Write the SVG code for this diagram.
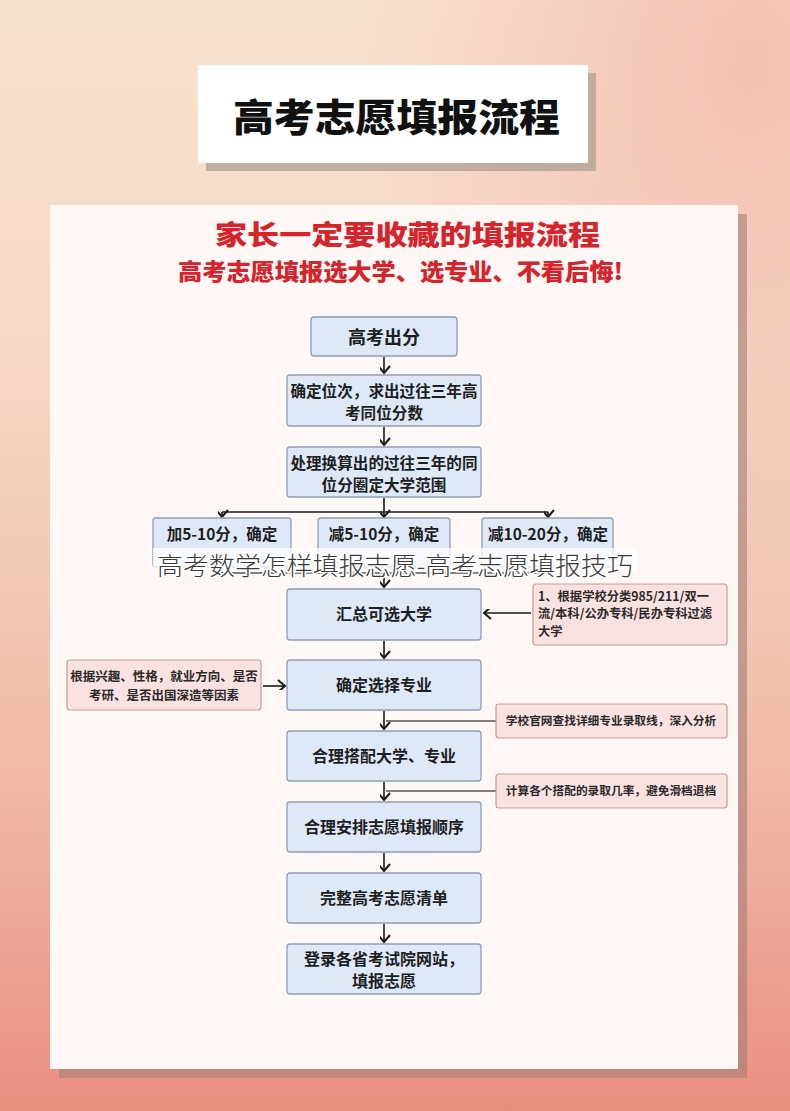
<svg xmlns="http://www.w3.org/2000/svg" width="790" height="1111" viewBox="0 0 790 1111">
<defs>
<linearGradient id="bg" x1="0" y1="0" x2="0" y2="1">
<stop offset="0" stop-color="#f7e2cf"/>
<stop offset="0.35" stop-color="#f5d6c4"/>
<stop offset="0.7" stop-color="#f0b9a8"/>
<stop offset="1" stop-color="#e98f80"/>
</linearGradient>
<radialGradient id="glow" cx="0.95" cy="0.05" r="0.5">
<stop offset="0" stop-color="#f4b9ae" stop-opacity="0.8"/>
<stop offset="1" stop-color="#f4b9ae" stop-opacity="0"/>
</radialGradient>
<marker id="ah" markerWidth="16" markerHeight="16" refX="8" refY="12" orient="auto-start-reverse" markerUnits="userSpaceOnUse" viewBox="0 0 16 16">
<path d="M2,5 L8,12 L14,5" fill="none" stroke="#1a1a1a" stroke-width="2" transform="rotate(-90 8 12)"/>
</marker>
<style>
.box{fill:#dfe8f7;stroke:#8e9db3;stroke-width:1.3}
.note{fill:#fbe2e2;stroke:#c69a9a;stroke-width:1.2}
.bt{font-family:"Noto Sans CJK SC","Noto Sans",sans-serif;font-weight:700;fill:#1e1e1e;text-anchor:middle}
.nt{font-family:"Noto Sans CJK SC","Noto Sans",sans-serif;font-weight:700;fill:#2a2a2a}
.ln{fill:none;stroke:#1a1a1a;stroke-width:1.6}
.gl{fill:none;stroke:#555;stroke-width:1.3}
</style>
</defs>
<rect x="0" y="0" width="790" height="1111" fill="url(#bg)"/>
<rect x="0" y="0" width="790" height="1111" fill="url(#glow)"/>
<g id="title">
<rect x="206" y="73" width="390" height="98" fill="#b3a393" opacity="0.8"/>
<rect x="198" y="65" width="390" height="98" fill="#ffffff"/>
<text x="233" y="131" font-family="'Noto Sans CJK SC',sans-serif" font-weight="900" font-size="38" fill="#111" textLength="327" lengthAdjust="spacingAndGlyphs">高考志愿填报流程</text>
</g>
<g id="card">
<rect x="59" y="214" width="688" height="864" fill="#a47e72" opacity="0.6"/>
<rect x="50" y="205" width="688" height="864" fill="#fdf8f5"/>
<text x="215" y="245" font-family="'Noto Sans CJK SC',sans-serif" font-weight="900" font-size="27" fill="#d5242b" textLength="385" lengthAdjust="spacingAndGlyphs">家长一定要收藏的填报流程</text>
<text x="178" y="280" font-family="'Noto Sans CJK SC',sans-serif" font-weight="900" font-size="23" fill="#d5242b" textLength="445" lengthAdjust="spacingAndGlyphs">高考志愿填报选大学、选专业、不看后悔!</text>
</g>
<g id="connectors">
<path class="ln" d="M384,357 V373" marker-end="url(#ah)"/>
<path class="ln" d="M384,427 V445" marker-end="url(#ah)"/>
<path class="ln" d="M384,498 V512"/>
<path class="ln" d="M222,512 H548"/>
<path class="ln" d="M222,512 V517" marker-end="url(#ah)"/>
<path class="ln" d="M384,512 V517" marker-end="url(#ah)"/>
<path class="ln" d="M548,512 V517" marker-end="url(#ah)"/>
<path class="gl" d="M222,567 V573 H548 V567"/>
<path class="ln" d="M384,573 V587" marker-end="url(#ah)"/>
<path class="ln" d="M531,613 H484" marker-end="url(#ah)"/>
<path class="ln" d="M263,686 H285" marker-end="url(#ah)"/>
<path class="ln" d="M384,641 V658" marker-end="url(#ah)"/>
<path class="ln" d="M384,711 V729" marker-end="url(#ah)"/>
<path class="gl" d="M496,721 H386"/>
<path class="ln" d="M384,782 V800" marker-end="url(#ah)"/>
<path class="gl" d="M496,791 H386"/>
<path class="ln" d="M384,853 V871" marker-end="url(#ah)"/>
<path class="ln" d="M384,924 V942" marker-end="url(#ah)"/>
</g>
<g id="n1"><rect class="box" x="311" y="317" width="146" height="39" rx="3"/><text class="bt" x="384" y="344" font-size="18">高考出分</text></g>
<g id="n2"><rect class="box" x="287" y="375" width="194" height="51" rx="3"/><text class="bt" x="384" y="397" font-size="15.6">确定位次，求出过往三年高</text><text class="bt" x="384" y="419" font-size="15.6">考同位分数</text></g>
<g id="n3"><rect class="box" x="287" y="447" width="194" height="50" rx="3"/><text class="bt" x="384" y="469" font-size="15.6">处理换算出的过往三年的同</text><text class="bt" x="384" y="491" font-size="15.6">位分圈定大学范围</text></g>
<g id="b1"><rect class="box" x="153" y="518" width="138" height="49" rx="3"/><text class="bt" x="222" y="540" font-size="15.5">加5-10分，确定</text></g>
<g id="b2"><rect class="box" x="318" y="518" width="132" height="49" rx="3"/><text class="bt" x="384" y="540" font-size="15.5">减5-10分，确定</text></g>
<g id="b3"><rect class="box" x="482" y="518" width="131" height="49" rx="3"/><text class="bt" x="548" y="540" font-size="15.5">减10-20分，确定</text></g>
<g id="watermark">
<rect x="153" y="548" width="484" height="24" fill="#ffffff" opacity="0.72"/>
<text x="157" y="575" font-family="'Noto Sans CJK SC',sans-serif" font-weight="300" font-size="25" fill="#3a3a3a" textLength="476" lengthAdjust="spacingAndGlyphs" stroke="#ffffff" stroke-width="3" paint-order="stroke">高考数学怎样填报志愿-高考志愿填报技巧</text>
</g>
<g id="n4"><rect class="box" x="287" y="589" width="194" height="51" rx="3"/><text class="bt" x="384" y="620" font-size="16">汇总可选大学</text></g>
<g id="r1"><rect class="note" x="533" y="584" width="194" height="61" rx="3"/>
<text class="nt" x="538" y="601" font-size="12.3">1、根据学校分类985/211/双一</text>
<text class="nt" x="538" y="618" font-size="12.3">流/本科/公办专科/民办专科过滤</text>
<text class="nt" x="538" y="636" font-size="12.3">大学</text></g>
<g id="n5"><rect class="box" x="287" y="660" width="194" height="50" rx="3"/><text class="bt" x="384" y="691" font-size="16">确定选择专业</text></g>
<g id="l1"><rect class="note" x="67" y="660" width="194" height="50" rx="3"/>
<text class="nt" x="164" y="681" font-size="12.5" text-anchor="middle">根据兴趣、性格，就业方向、是否</text>
<text class="nt" x="164" y="700" font-size="12.5" text-anchor="middle">考研、是否出国深造等因素</text></g>
<g id="r2"><rect class="note" x="496" y="704" width="231" height="34" rx="3"/><text class="nt" x="611" y="725" font-size="11.7" text-anchor="middle">学校官网查找详细专业录取线，深入分析</text></g>
<g id="n6"><rect class="box" x="287" y="731" width="194" height="50" rx="3"/><text class="bt" x="384" y="762" font-size="16">合理搭配大学、专业</text></g>
<g id="r3"><rect class="note" x="496" y="774" width="231" height="34" rx="3"/><text class="nt" x="611" y="795" font-size="11.7" text-anchor="middle">计算各个搭配的录取几率，避免滑档退档</text></g>
<g id="n7"><rect class="box" x="287" y="802" width="194" height="50" rx="3"/><text class="bt" x="384" y="833" font-size="16">合理安排志愿填报顺序</text></g>
<g id="n8"><rect class="box" x="287" y="873" width="194" height="50" rx="3"/><text class="bt" x="384" y="904" font-size="16">完整高考志愿清单</text></g>
<g id="n9"><rect class="box" x="287" y="944" width="194" height="50" rx="3"/><text class="bt" x="384" y="965" font-size="16">登录各省考试院网站，</text><text class="bt" x="384" y="987" font-size="16">填报志愿</text></g>
</svg>
